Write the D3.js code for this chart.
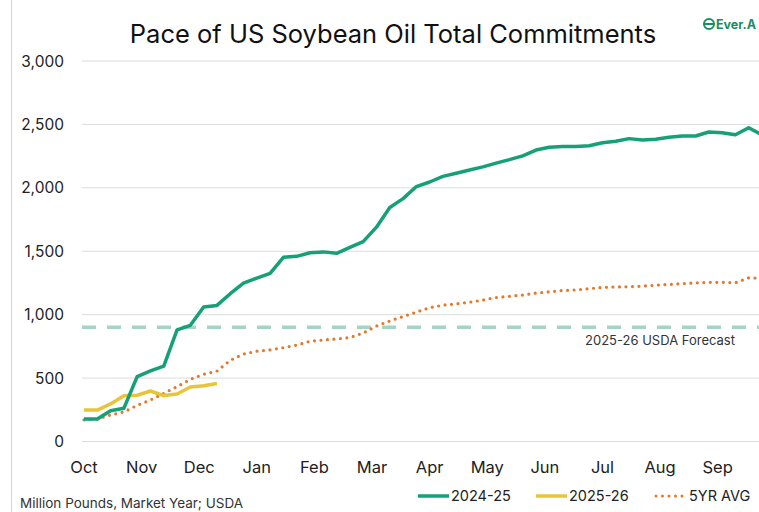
<!DOCTYPE html>
<html>
<head>
<meta charset="utf-8">
<script src="https://cdn.jsdelivr.net/npm/d3@7"></script>
<style>
  html, body { margin: 0; padding: 0; background: #fff; }
  svg { display: block; font-family: Inter, "Open Sans", sans-serif; }
</style>
</head>
<body>
<div id="chart"></div>
<script>
// Weekly data, marketing year starting Oct (million pounds)
const MONTHS = ['Oct', 'Nov', 'Dec', 'Jan', 'Feb', 'Mar', 'Apr', 'May', 'Jun', 'Jul', 'Aug', 'Sep'];
const Y_TICKS = [0, 500, 1000, 1500, 2000, 2500, 3000];

const SERIES_2425 = [
  177, 177, 243, 262, 511, 556, 595, 880, 916, 1060,
  1073, 1165, 1248, 1288, 1325, 1452, 1460, 1488, 1495, 1484,
  1530, 1576, 1690, 1845, 1915, 2010, 2046, 2090, 2115, 2141,
  2165, 2195, 2222, 2252, 2298, 2320, 2325, 2325, 2332, 2356,
  2367, 2388, 2378, 2383, 2398, 2409, 2409, 2440, 2435, 2419,
  2474, 2417
];
const SERIES_2526 = [248, 248, 296, 360, 365, 398, 362, 374, 430, 440, 457];
const SERIES_AVG = [
  170, 177, 209, 233, 285, 327, 380, 432, 490, 530,
  555, 640, 690, 712, 722, 740, 760, 790, 800, 808,
  820, 855, 910, 950, 985, 1020, 1055, 1075, 1085, 1098,
  1115, 1135, 1145, 1155, 1170, 1180, 1190, 1195, 1205, 1215,
  1218, 1220, 1225, 1232, 1238, 1245, 1250, 1255, 1255, 1252,
  1290, 1287
];
const USDA_FORECAST = 900;

const COLORS = {
  green: '#16a077',
  yellow: '#e9c43b',
  orange: '#e27a2e',
  forecast: '#a6d4c4',
  grid: '#dcdcdc',
  text: '#222'
};

const W = 759, H = 512;

const svg = d3.select('#chart').append('svg')
  .attr('width', W)
  .attr('height', H);

const x = d3.scaleLinear().domain([0, 51]).range([84, 762]);
const y = d3.scaleLinear().domain([0, 3000]).range([441.5, 61]);

// Left border
svg.append('line')
  .attr('x1', 11.5).attr('x2', 11.5)
  .attr('y1', 0).attr('y2', H)
  .attr('stroke', '#d4d4d4');

// Title
svg.append('text')
  .text('Pace of US Soybean Oil Total Commitments')
  .attr('x', 393)
  .attr('y', 43)
  .attr('text-anchor', 'middle')
  .attr('font-size', 25.5)
  .attr('fill', '#111');

// Logo (cropped in the original, keep it inside the frame)
const logo = svg.append('g').attr('transform', 'translate(704,24)');
logo.append('circle').attr('cx', 5).attr('cy', 0).attr('r', 5)
  .attr('fill', 'none').attr('stroke', '#1b8d63').attr('stroke-width', 2);
logo.append('line').attr('x1', 1).attr('x2', 9).attr('y1', 0).attr('y2', 0)
  .attr('stroke', '#1b8d63').attr('stroke-width', 2);
logo.append('text').text('Ever.A')
  .attr('x', 12).attr('y', 5)
  .attr('font-size', 12.5).attr('font-weight', 700)
  .attr('fill', '#1b8d63');

// Gridlines
svg.selectAll('.grid')
    .data(Y_TICKS)
  .enter().append('line')
    .classed('grid', true)
    .attr('x1', 82).attr('x2', W)
    .attr('y1', d => y(d)).attr('y2', d => y(d))
    .attr('stroke', COLORS.grid);

// Y axis labels
svg.selectAll('.ylab')
    .data(Y_TICKS)
  .enter().append('text')
    .classed('ylab', true)
    .text(d => d3.format(',')(d))
    .attr('x', 64)
    .attr('y', d => y(d) + 5.5)
    .attr('text-anchor', 'end')
    .attr('font-size', 15.5)
    .attr('fill', COLORS.text);

// X axis labels
svg.selectAll('.xlab')
    .data(MONTHS)
  .enter().append('text')
    .classed('xlab', true)
    .text(d => d)
    .attr('x', (d, i) => x(i * 52 / 12))
    .attr('y', 473)
    .attr('text-anchor', 'middle')
    .attr('font-size', 16.5)
    .attr('fill', COLORS.text);

// USDA forecast
svg.append('line')
  .attr('x1', 82).attr('x2', W)
  .attr('y1', y(USDA_FORECAST)).attr('y2', y(USDA_FORECAST))
  .attr('stroke', COLORS.forecast)
  .attr('stroke-width', 3.5)
  .attr('stroke-dasharray', '14,11');
svg.append('text')
  .text('2025-26 USDA Forecast')
  .attr('x', 660)
  .attr('y', y(USDA_FORECAST) + 18)
  .attr('text-anchor', 'middle')
  .attr('font-size', 13)
  .attr('fill', '#333');

const line = d3.line()
  .x((d, i) => x(i))
  .y(d => y(d));

svg.append('path')
  .datum(SERIES_AVG)
  .attr('d', line)
  .attr('fill', 'none')
  .attr('stroke', COLORS.orange)
  .attr('stroke-width', 3.2)
  .attr('stroke-linecap', 'round')
  .attr('stroke-dasharray', '0,6.5');

svg.append('path')
  .datum(SERIES_2526)
  .attr('d', line)
  .attr('fill', 'none')
  .attr('stroke', COLORS.yellow)
  .attr('stroke-width', 3.5)
  .attr('stroke-linejoin', 'round');

svg.append('path')
  .datum(SERIES_2425)
  .attr('d', line)
  .attr('fill', 'none')
  .attr('stroke', COLORS.green)
  .attr('stroke-width', 3.5)
  .attr('stroke-linejoin', 'round');

// Legend
const legend = [
  { label: '2024-25', color: COLORS.green, dash: null, x: 418 },
  { label: '2025-26', color: COLORS.yellow, dash: null, x: 536 },
  { label: '5YR AVG', color: COLORS.orange, dash: '0,6.5', x: 656 }
];
const lg = svg.selectAll('.legend')
    .data(legend)
  .enter().append('g')
    .classed('legend', true)
    .attr('transform', d => `translate(${d.x},496)`);
lg.append('line')
  .attr('x1', 0).attr('x2', 31)
  .attr('y1', 0).attr('y2', 0)
  .attr('stroke', d => d.color)
  .attr('stroke-width', d => d.dash ? 3 : 3.5)
  .attr('stroke-linecap', d => d.dash ? 'round' : 'butt')
  .attr('stroke-dasharray', d => d.dash);
lg.append('text')
  .text(d => d.label)
  .attr('x', 33)
  .attr('y', 5)
  .attr('font-size', 14.5)
  .attr('fill', COLORS.text);

// Footnote
svg.append('text')
  .text('Million Pounds, Market Year; USDA')
  .attr('x', 20)
  .attr('y', 508)
  .attr('font-size', 13.5)
  .attr('fill', '#333');
</script>
</body>
</html>
